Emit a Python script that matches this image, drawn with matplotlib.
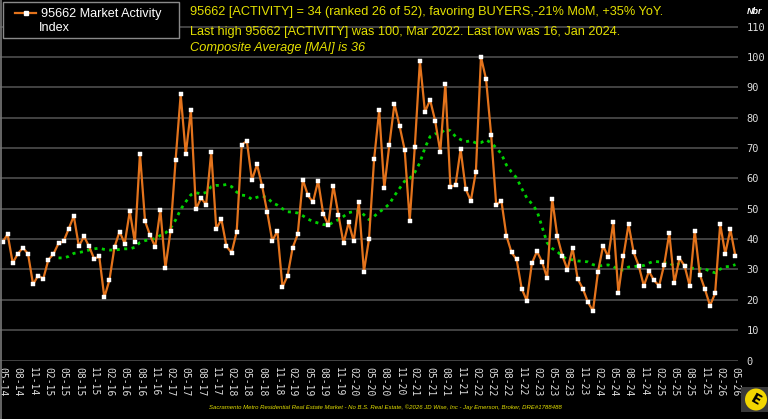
import matplotlib
matplotlib.use("Agg")
import matplotlib.pyplot as plt
import matplotlib.patches as mpatches
from matplotlib.lines import Line2D
import pandas as pd
import numpy as np

# ---------------- data ----------------
start_month = "2014-05-01"
activity = [
    39.0, 41.6, 32.1, 35.2, 37.1, 35.2, 25.1, 28.0, 26.9, 33.2,
    35.1, 38.6, 39.3, 43.4, 47.6, 37.6, 40.9, 37.6, 33.5, 34.3,
    20.8, 26.5, 37.4, 42.5, 38.5, 49.2, 38.9, 68.2, 45.9, 41.2,
    37.4, 49.6, 30.5, 42.6, 66.0, 87.7, 68.0, 82.4, 49.9, 53.5,
    51.4, 68.6, 43.4, 46.5, 37.6, 35.5, 42.4, 71.1, 72.3, 59.5,
    64.6, 57.5, 48.9, 39.4, 42.7, 24.2, 27.9, 37.2, 41.6, 59.6,
    54.4, 52.2, 59.2, 48.4, 44.5, 57.6, 47.9, 38.6, 45.5, 39.3,
    52.2, 29.3, 40.0, 66.3, 82.4, 56.8, 71.1, 84.6, 77.3, 69.5,
    46.1, 70.4, 98.6, 81.9, 85.9, 79.0, 68.8, 91.1, 57.2, 57.8,
    69.6, 56.5, 52.6, 62.2, 100.0, 92.7, 74.3, 51.2, 52.7, 41.1,
    35.6, 33.3, 23.7, 19.7, 32.0, 36.0, 32.5, 27.2, 53.3, 40.9,
    34.5, 29.9, 37.0, 26.9, 23.7, 19.3, 16.3, 29.3, 37.8, 34.1,
    45.5, 22.3, 34.5, 44.9, 35.6, 31.2, 24.6, 29.4, 26.4, 24.6,
    31.6, 41.9, 25.5, 33.7, 31.2, 24.6, 42.8, 28.3, 23.5, 18.1,
    22.1, 44.9, 35.2, 43.2, 34.3,
]
# composite (moving) average, read point by point, starts at the 12th month
average_start = 11
average = [
    33.8, 33.8, 34.3, 35.3, 35.6, 35.9, 36.4, 36.8, 37.0, 36.6,
    36.4, 36.4, 36.6, 36.8, 36.8, 37.3, 38.9, 39.5, 39.8, 40.2,
    41.2, 42.0, 43.6, 46.3, 49.8, 52.3, 54.6, 55.3, 54.9, 55.4,
    57.3, 57.7, 57.7, 58.0, 57.3, 55.5, 54.5, 54.3, 53.1, 53.8,
    54.2, 53.7, 52.0, 51.2, 50.0, 49.0, 48.9, 48.6, 47.7, 46.6,
    45.8, 45.3, 44.8, 44.6, 45.6, 46.4, 47.5, 48.7, 49.1, 49.4,
    48.0, 46.4, 47.5, 48.9, 50.1, 51.6, 54.3, 56.7, 59.1, 60.0,
    62.0, 65.2, 70.1, 73.8, 74.7, 74.7, 76.3, 75.7, 73.8, 72.8,
    72.1, 72.4, 71.7, 71.8, 72.7, 71.7, 70.1, 68.1, 64.4, 62.1,
    60.2, 56.7, 53.6, 51.6, 49.3, 44.1, 38.8, 36.9, 35.9, 34.3,
    33.3, 33.2, 32.8, 32.7, 32.5, 31.6, 31.1, 31.3, 31.5, 31.0,
    29.9, 29.8, 30.8, 30.9, 31.2, 31.3, 32.1, 32.7, 32.5, 32.2,
    32.2, 31.1, 31.9, 31.4, 30.4, 30.4, 30.3, 30.2, 29.4, 28.9,
    30.1, 30.9, 31.0, 31.6,
]
y_ticks = list(range(0, 111, 10))
legend_lines = ["95662 Market Activity", "Index"]
header_lines = [
    "95662 [ACTIVITY] = 34 (ranked 26 of 52), favoring BUYERS,-21% MoM, +35% YoY.",
    "Last high 95662 [ACTIVITY] was 100, Mar 2022. Last low was 16, Jan 2024.",
    "Composite Average [MAI] is 36",
]
footer = ("Sacramento Metro Residential Real Estate Market - No B.S. Real Estate, "
          "\u00a92026 JD Wise, Inc - Jay Emerson, Broker, DRE#1788488")

# ---------------- figure ----------------
W, H = 768, 419
fig = plt.figure(figsize=(W / 100, H / 100), dpi=100, facecolor="black")

def fx(px):
    return px / W

def fy(py):
    return 1 - py / H

ax_left, ax_right = 0, 738
ax_bottom, ax_top = 360.5, 11.5
ax = fig.add_axes([fx(ax_left), fy(ax_bottom), fx(ax_right - ax_left), (ax_bottom - ax_top) / H])
ax.set_facecolor("black")

n = len(activity)
x = np.arange(n)
months = pd.date_range(start_month, periods=n, freq="MS")
avg_x = np.arange(average_start, average_start + len(average))

orange = "#e3731c"
yellow = "#e4e000"

for v in y_ticks:
    ax.axhline(v, color="#484848", lw=1.3, zorder=1)

ax.plot(avg_x, average, color="#00d200", lw=2.0, linestyle=(0, (1.1, 1.6)),
        dash_capstyle="butt", zorder=2)
ax.plot(x, activity, color=orange, lw=1.6, marker="s", markersize=2.3,
        markerfacecolor="white", markeredgecolor="white", markeredgewidth=0.3, zorder=3)

ax.set_xlim(-0.5, n - 0.5)
ax.set_ylim(0, 115)
for s in ax.spines.values():
    s.set_visible(False)

ax.yaxis.tick_right()
ax.set_yticks(y_ticks)
ax.set_yticklabels([str(v) for v in y_ticks], family="DejaVu Sans Mono",
                   fontsize=7.5, color="#dddddd")
ax.tick_params(axis="y", length=0, pad=6)

tick_pos = list(range(0, n, 3))
ax.set_xticks(tick_pos)
ax.set_xticklabels([months[i].strftime("%m-%y") for i in tick_pos],
                   family="DejaVu Sans Mono", fontsize=7, color="#dddddd",
                   rotation=-90, va="top", ha="center")
ax.tick_params(axis="x", length=0, pad=5)

# left border line
fig.add_artist(Line2D([fx(1), fx(1)], [0, 1], color="#777777", lw=1.2))

# legend box
fig.add_artist(mpatches.Rectangle((fx(2.5), fy(38)), fx(176), 35.5 / H,
                                  facecolor="black", edgecolor="#8a8a8a", lw=1.0,
                                  zorder=5))
fig.add_artist(Line2D([fx(15), fx(36)], [fy(13.5), fy(13.5)], color=orange, lw=1.6,
                      zorder=6))
fig.add_artist(Line2D([fx(25.5)], [fy(13.5)], marker="s", markersize=2.3,
                      markerfacecolor="white", markeredgecolor="white", lw=0, zorder=7))
fig.text(fx(41), fy(13.5), legend_lines[0], color="white", family="Liberation Sans",
         fontsize=9.1, va="center", ha="left", zorder=8)
fig.text(fx(38.5), fy(28), legend_lines[1], color="white", family="Liberation Sans",
         fontsize=9.1, va="center", ha="left", zorder=8)

# header
header_y = [12.5, 31.5, 47.5]
for i, (t, yy) in enumerate(zip(header_lines, header_y)):
    fig.text(fx(190), fy(yy), t, color=yellow, family="Liberation Sans", fontsize=9.2,
             va="center", ha="left", style="italic" if i == 2 else "normal", zorder=8)

fig.text(fx(755), fy(11), "Nbr", color="white", family="Liberation Sans", fontsize=6.5,
         weight="bold", style="italic", va="center", ha="center")

fig.text(fx(385.5), fy(407), footer, color=yellow, family="Liberation Sans",
         fontsize=4.3, style="italic", va="center", ha="center")

# logo
fig.add_artist(mpatches.Rectangle((fx(741), fy(412)), fx(27), 25 / H,
                                  facecolor="#3a3a3a", edgecolor="none"))
fig.add_artist(mpatches.Ellipse((fx(756), fy(399.5)), fx(22), 22 / H,
                                facecolor="#f2d600", edgecolor="none"))
fig.text(fx(756), fy(399.5), "E", color="black", family="DejaVu Sans", weight="bold",
         fontsize=10, rotation=-30, va="center", ha="center")

fig.savefig("out.png", dpi=100, facecolor="black")
